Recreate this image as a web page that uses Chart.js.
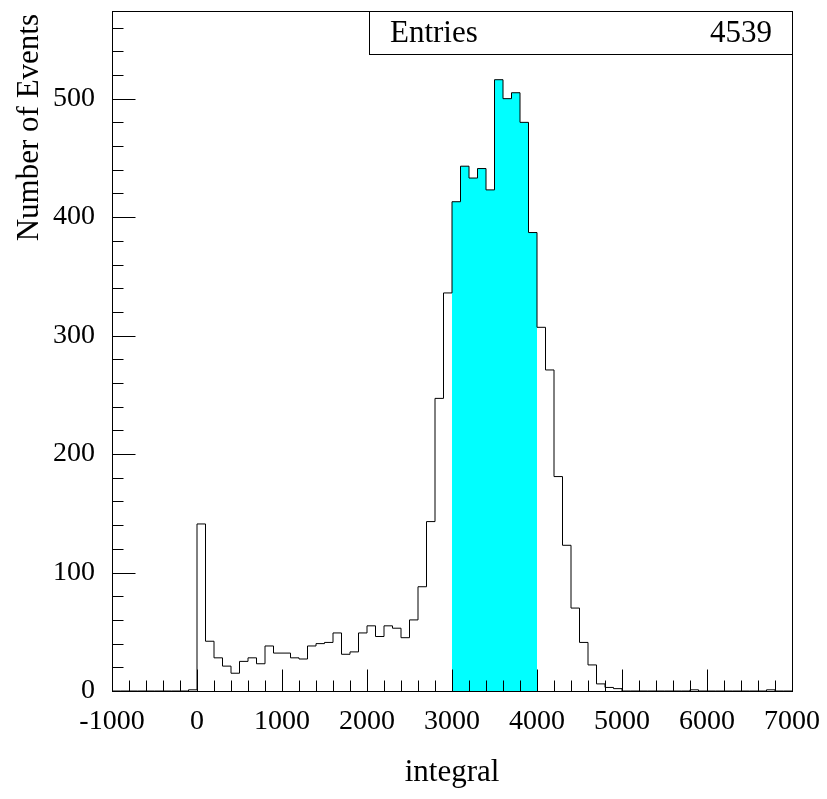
<!DOCTYPE html>
<html>
<head>
<meta charset="utf-8">
<title>integral</title>
<script src="https://cdn.jsdelivr.net/npm/chart.js@4/dist/chart.umd.min.js"></script>
<style>
  html, body { margin: 0; padding: 0; background: #ffffff; }
  #wrap { width: 827px; height: 799px; }
</style>
</head>
<body>
<div id="wrap"><canvas id="c" width="827" height="799"></canvas></div>
<script>
// Histogram binning: 80 bins of width 100 starting at -1000
const binStart = -1000;
const binWidth = 100;

// Counts per bin, left to right
const counts = [
  0, 0, 0, 0, 0, 0, 0, 0, 0, 1,
  141, 42, 28, 21, 15, 25, 28, 23, 38, 32,
  32, 28, 27, 38, 40, 41, 49, 31, 33, 49,
  55, 46, 55, 53, 45, 60, 88, 143, 247, 336,
  413, 443, 433, 441, 423, 516, 500, 505, 480, 387,
  307, 271, 181, 123, 70, 41, 22, 6, 3, 2,
  0, 0, 0, 0, 0, 0, 0, 0, 1, 0,
  0, 0, 0, 0, 0, 0, 0, 1, 0, 0
];

// Highlighted integration window
const selLow = 3000;
const selHigh = 4000;

// Axis ranges and tick labels
const xMin = -1000, xMax = 7000;
const yMin = 0, yMax = 574;
const xTickLabels = [-1000, 0, 1000, 2000, 3000, 4000, 5000, 6000, 7000];
const yTickLabels = [0, 100, 200, 300, 400, 500];

const entriesLabel = 'Entries';
const entriesValue = '4539';
const xTitle = 'integral';
const yTitle = 'Number of Events';

const FONT = '"Liberation Serif", "Times New Roman", "DejaVu Serif", serif';

// Bin lower edges and the step outline (one point per left edge, plus the last right edge)
const edges = counts.map((_, i) => binStart + i * binWidth);
const outline = counts.map((c, i) => ({ x: edges[i], y: c }));
outline.push({ x: binStart + counts.length * binWidth, y: counts[counts.length - 1] });

// Filled part: only the bins inside the window
const windowBins = [];
counts.forEach((c, i) => {
  if (edges[i] >= selLow && edges[i] < selHigh) windowBins.push({ x: edges[i], y: c });
});
windowBins.push({ x: selHigh, y: windowBins[windowBins.length - 1].y });

// Frame, inward ticks, stats box and axis titles
const decorations = {
  id: 'decorations',
  afterDatasetsDraw(chart) {
    const { ctx, chartArea: a, scales } = chart;
    const xs = scales.x, ys = scales.y;
    ctx.save();
    ctx.strokeStyle = '#000';
    ctx.lineWidth = 1;

    // frame
    ctx.strokeRect(a.left + 0.5, a.top + 0.5, a.right - a.left, a.bottom - a.top);

    // x ticks: major every 1000, minor every 200
    ctx.beginPath();
    for (let v = xMin; v <= xMax; v += 200) {
      const px = Math.round(xs.getPixelForValue(v)) + 0.5;
      const len = (v % 1000 === 0) ? 22 : 11;
      ctx.moveTo(px, a.bottom + 0.5);
      ctx.lineTo(px, a.bottom + 0.5 - len);
    }
    // y ticks: major every 100, minor every 20
    for (let v = yMin; v <= yMax; v += 20) {
      const py = Math.round(ys.getPixelForValue(v)) + 0.5;
      const len = (v % 100 === 0) ? 23 : 11;
      ctx.moveTo(a.left + 0.5, py);
      ctx.lineTo(a.left + 0.5 + len, py);
    }
    ctx.stroke();

    // stats box
    const bx = 369, by = a.top, bw = a.right - 369, bh = 43;
    ctx.fillStyle = '#fff';
    ctx.fillRect(bx + 0.5, by + 0.5, bw, bh);
    ctx.strokeRect(bx + 0.5, by + 0.5, bw, bh);
    ctx.fillStyle = '#000';
    ctx.font = '31px ' + FONT;
    ctx.textBaseline = 'middle';
    ctx.textAlign = 'left';
    ctx.fillText(entriesLabel, 390, by + bh / 2 + 1);
    ctx.textAlign = 'right';
    ctx.fillText(entriesValue, 772, by + bh / 2 + 1);

    // axis titles
    ctx.font = '31px ' + FONT;
    ctx.textAlign = 'center';
    ctx.textBaseline = 'middle';
    ctx.fillText(xTitle, (a.left + a.right) / 2, 773);

    ctx.translate(30, 14);
    ctx.rotate(-Math.PI / 2);
    ctx.textAlign = 'right';
    ctx.textBaseline = 'middle';
    ctx.fillText(yTitle, 0, 0);
    ctx.restore();
  }
};

new Chart(document.getElementById('c'), {
  type: 'line',
  data: {
    datasets: [
      {
        label: 'window',
        data: windowBins,
        stepped: 'before',
        fill: 'origin',
        backgroundColor: '#00ffff',
        borderWidth: 0,
        borderColor: 'rgba(0,0,0,0)',
        pointRadius: 0,
        order: 2
      },
      {
        label: 'histogram',
        data: outline,
        stepped: 'before',
        fill: false,
        borderColor: '#000000',
        borderWidth: 1,
        pointRadius: 0,
        order: 1
      }
    ]
  },
  options: {
    responsive: false,
    animation: false,
    events: [],
    layout: { padding: { top: 11, right: 35, left: 0, bottom: 0 } },
    plugins: { legend: { display: false }, tooltip: { enabled: false }, title: { display: false } },
    scales: {
      x: {
        type: 'linear',
        min: xMin,
        max: xMax,
        grid: { display: false, drawTicks: false },
        border: { display: false },
        afterBuildTicks(scale) { scale.ticks = xTickLabels.map(v => ({ value: v })); },
        afterFit(scale) {
          scale.height = 108;
          scale.paddingLeft = 0; scale.paddingRight = 0;
        },
        ticks: {
          includeBounds: false,
          autoSkip: false,
          maxRotation: 0,
          padding: 14,
          color: '#000',
          font: { family: FONT, size: 28 },
          callback: v => String(v)
        }
      },
      y: {
        type: 'linear',
        min: yMin,
        max: yMax,
        grid: { display: false, drawTicks: false },
        border: { display: false },
        afterBuildTicks(scale) { scale.ticks = yTickLabels.map(v => ({ value: v })); },
        afterFit(scale) {
          scale.width = 112;
          scale.paddingTop = 0; scale.paddingBottom = 0;
        },
        ticks: {
          includeBounds: false,
          autoSkip: false,
          padding: 17,
          color: '#000',
          font: { family: FONT, size: 28 },
          callback: v => String(v)
        }
      }
    }
  },
  plugins: [decorations]
});
</script>
</body>
</html>
